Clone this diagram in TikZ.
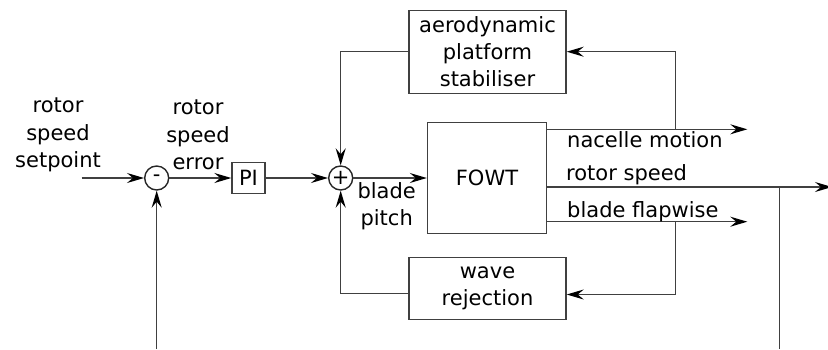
\documentclass[tikz,border=0pt]{standalone}
\usepackage{fontspec}
\setmainfont{DejaVu Sans}
\usetikzlibrary{arrows.meta,positioning}

\tikzset{
    block/.style={draw=black!75, line width=1.4pt, align=center, inner sep=0pt},
    sumnode/.style={draw=black!85, line width=1.4pt, circle, minimum size=24pt, inner sep=0pt},
    sig/.style={draw=black!75, line width=1.4pt},
    sigarrow/.style={sig, -{Stealth[length=17pt, width=10pt, inset=6pt, black]}},
    lbl/.style={align=center, inner sep=0pt}
}

\begin{document}
\begin{tikzpicture}[x=1pt, y=-1pt, font=\fontsize{21}{27.3}\selectfont]
        \useasboundingbox (0,0) rectangle (828,349);

        % --- 1. Speed loop (left part) ---
        \coordinate (spin) at (81.7,178);
        \coordinate (fbin) at (156.7,349);
        \node[sumnode] (sum1) at (156.7,178) {-};
        \node[block, minimum width=33pt, minimum height=31pt] (pi) at (248.5,178) {PI};
        \node[sumnode] (sum2) at (340.7,178) {+};

        \node[lbl] (setpoint) at (58,135) {rotor\\speed\\setpoint};
        \node[lbl] (error) at (198,135) {rotor\\speed\\error};

        \draw[sigarrow] (spin) -- (sum1.west);
        \draw[sigarrow] (fbin) -- (sum1.south);
        \draw[sigarrow] (sum1.east) -- (pi.west);
        \draw[sigarrow] (pi.east) -- (sum2.west);

        % --- 2. Plant and the two extra controllers ---
        \node[block, minimum width=119pt, minimum height=110.6pt] (fowt) at (487,178) {FOWT};
        \node[block, minimum width=157pt, minimum height=83pt] (aero) at (487.5,51.7) {aerodynamic\\platform\\stabiliser};
        \node[block, minimum width=157pt, minimum height=61.6pt] (wave) at (487.5,288.5) {wave\\rejection};

        \draw[sigarrow] (sum2.east) -- (fowt.west);
        \node[lbl] (pitch) at (386.7,206) {blade\\pitch};

        \draw[sigarrow] (aero.west) -| (sum2.north);
        \draw[sigarrow] ([yshift=-5pt]wave.west) -| (sum2.south);

        % --- 3. Outputs of the FOWT ---
        \coordinate (nacend) at (747.3,129.3);
        \coordinate (nactap) at (675.3,129.3);
        \coordinate (rsend) at (832,187);
        \coordinate (rstap) at (779.3,187);
        \coordinate (rsdown) at (779.3,349);
        \coordinate (flapend) at (747.3,221.7);
        \coordinate (flaptap) at (675.3,221.7);

        \draw[sigarrow] (fowt.east |- nacend) -- (nacend);
        \draw[sigarrow] (fowt.east |- rsend) -- (rsend);
        \draw[sigarrow] (fowt.east |- flapend) -- (flapend);
        \draw[sigarrow] (nactap) |- (aero.east);
        \draw[sigarrow] (flaptap) |- ([yshift=-6pt]wave.east);
        \draw[sig] (rstap) -- (rsdown);

        \node[lbl, anchor=base west] (nacelle) at (567,147.3) {nacelle motion};
        \node[lbl, anchor=base west] (speed) at (566,180) {rotor speed};
        \node[lbl, anchor=base west] (flap) at (567,217.3) {blade flapwise};

    \end{tikzpicture}
\end{document}
